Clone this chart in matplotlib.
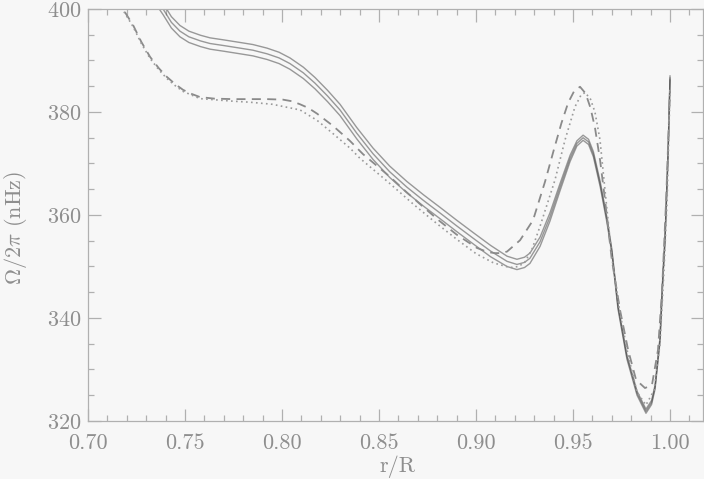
import matplotlib
matplotlib.use("Agg")
import matplotlib.pyplot as plt
from matplotlib.ticker import MultipleLocator, FormatStrFormatter

# ---- data ----
r_solid = [0.730, 0.7387, 0.7430, 0.7474, 0.7520, 0.7580, 0.7629, 0.7700, 0.7784, 0.7850,
           0.7923, 0.7985, 0.8041, 0.8110, 0.8170, 0.8235, 0.8299, 0.8385, 0.8469, 0.8555,
           0.8644, 0.8730, 0.8814, 0.8900, 0.8985, 0.9075, 0.9160, 0.9211, 0.9250, 0.9278,
           0.9330, 0.9381, 0.9433, 0.9485, 0.9520, 0.9552, 0.9580, 0.9605, 0.9640, 0.9675,
           0.9700, 0.9732, 0.9778, 0.9830, 0.9876, 0.9905, 0.9923, 0.9948, 0.9964, 0.9974,
           0.9990, 1.000]
omega_solid = [404.8, 400.0, 397.4, 395.7, 394.6, 393.8, 393.3, 392.9, 392.4, 392.0,
               391.3, 390.5, 389.4, 387.6, 385.6, 383.1, 380.4, 375.9, 371.9, 368.4,
               365.4, 362.8, 360.4, 357.9, 355.5, 353.0, 351.0, 350.4, 350.8, 351.6,
               354.8, 359.6, 365.4, 371.0, 373.9, 375.0, 374.2, 371.8, 366.0, 359.0,
               353.0, 342.1, 332.4, 325.4, 321.9, 323.6, 326.6, 335.7, 348.7, 355.1,
               372.0, 386.6]
err_solid = [1.1, 1.1, 1.1, 1.1, 1.1, 1.1, 1.1, 1.1, 1.1, 1.1,
             1.1, 1.1, 1.1, 1.1, 1.1, 1.1, 1.1, 1.1, 1.1, 1.1,
             1.1, 1.1, 1.1, 1.1, 1.1, 1.1, 1.0, 1.0, 1.0, 1.0,
             0.9, 0.8, 0.7, 0.6, 0.5, 0.5, 0.5, 0.5, 0.5, 0.5,
             0.4, 0.4, 0.4, 0.4, 0.4, 0.4, 0.4, 0.4, 0.4, 0.4,
             0.4, 0.4]

r_dashed = [0.712, 0.718, 0.7232, 0.7275, 0.732, 0.7365, 0.7407, 0.745, 0.749, 0.7535,
            0.7577, 0.765, 0.7747, 0.7923, 0.8005, 0.8050, 0.8093, 0.8135, 0.818, 0.8263,
            0.835, 0.8418, 0.8557, 0.8640, 0.8727, 0.8810, 0.890, 0.9005, 0.9060, 0.9098,
            0.9130, 0.916, 0.9227, 0.9294, 0.9356, 0.9400, 0.9440, 0.9475, 0.9505, 0.9536,
            0.9565, 0.9590, 0.9613, 0.9640, 0.9665, 0.970, 0.9742, 0.9784, 0.9825, 0.9871,
            0.9907, 0.9938, 0.9959, 0.998, 1.000]
omega_dashed = [403.6, 400.0, 396.9, 393.6, 390.7, 388.5, 386.8, 385.4, 384.3, 383.5,
                382.9, 382.6, 382.5, 382.5, 382.4, 382.1, 381.5, 380.8, 379.7, 377.3,
                374.4, 371.8, 367.4, 364.5, 361.6, 358.9, 356.2, 353.6, 352.8, 352.6,
                352.6, 352.9, 355.1, 359.0, 366.5, 372.5, 377.8, 381.8, 384.0, 384.9,
                383.6, 380.8, 377.0, 370.5, 362.9, 351.3, 341.6, 333.8, 328.0, 326.4,
                327.0, 333.8, 345.4, 362.9, 384.3]

r_dotted = [0.712, 0.718, 0.7232, 0.7275, 0.732, 0.7365, 0.7407, 0.745, 0.749, 0.7577,
            0.7747, 0.7835, 0.795, 0.8093, 0.818, 0.8263, 0.835, 0.8402, 0.855, 0.868,
            0.8799, 0.890, 0.900, 0.909, 0.9175, 0.9220, 0.9253, 0.929, 0.933, 0.9407,
            0.9459, 0.951, 0.9540, 0.9562, 0.9590, 0.9613, 0.9639, 0.967, 0.970, 0.9742,
            0.9784, 0.983, 0.9876, 0.9918, 0.9948, 0.9969, 0.9985, 1.000]
omega_dotted = [403.4, 399.8, 396.6, 393.3, 390.4, 388.2, 386.5, 385.1, 384.0, 382.6,
                382.1, 381.9, 381.5, 380.4, 378.4, 375.8, 373.0, 371.0, 366.3, 362.0,
                358.3, 355.3, 352.5, 350.7, 349.8, 350.0, 350.9, 353.5, 357.8, 366.8,
                374.6, 381.0, 383.2, 383.8, 382.5, 380.0, 374.6, 362.9, 351.8, 341.0,
                332.8, 325.6, 323.1, 326.0, 334.8, 349.3, 362.9, 384.3]

x_ticks = [0.70, 0.75, 0.80, 0.85, 0.90, 0.95, 1.00]
y_ticks = [320, 340, 360, 380, 400]

# ---- style ----
plt.rcParams['font.family'] = ['cmr10', 'DejaVu Serif']
plt.rcParams['mathtext.fontset'] = 'cm'
plt.rcParams['axes.formatter.use_mathtext'] = True

text_col = '#8e8e8e'
spine_col = '#b0b0b0'
bg = '#f7f7f7'

fig = plt.figure(figsize=(7.04, 4.79), dpi=100, facecolor=bg)
ax = fig.add_axes([88 / 704, (479 - 421) / 479, 615 / 704, 412 / 479])
ax.set_facecolor(bg)

line_col = '#4a4a4a'
lower = [o - e for o, e in zip(omega_solid, err_solid)]
upper = [o + e for o, e in zip(omega_solid, err_solid)]
for series in (lower, omega_solid, upper):
    ax.plot(r_solid, series, color=line_col, lw=1.0, alpha=0.55,
            solid_joinstyle='round')

ax.plot(r_dashed, omega_dashed, color='#8a8a8a', lw=1.3, dashes=(5, 3.5))
ax.plot(r_dotted, omega_dotted, color='#9a9a9a', lw=1.2, dashes=(1, 2))

ax.set_xlim(0.70, 1.017)
ax.set_ylim(320, 400)
ax.set_xticks(x_ticks)
ax.set_yticks(y_ticks)
ax.xaxis.set_major_formatter(FormatStrFormatter('%.2f'))
ax.xaxis.set_minor_locator(MultipleLocator(0.01))
ax.yaxis.set_minor_locator(MultipleLocator(5))

ax.tick_params(which='both', direction='in', top=True, right=True,
               color=spine_col, labelcolor=text_col, labelsize=16, width=0.9)
ax.tick_params(which='major', length=9)
ax.tick_params(which='minor', length=4.5)
ax.tick_params(axis='x', which='major', pad=9)
ax.tick_params(axis='y', which='major', pad=5)

for s in ax.spines.values():
    s.set_color(spine_col)
    s.set_linewidth(0.9)

ax.set_xlabel('r/R', color=text_col, fontsize=16)
ax.xaxis.set_label_coords(0.504, -0.084)
ax.set_ylabel(r'$\Omega/2\pi$ (nHz)', color=text_col, fontsize=16)
ax.yaxis.set_label_coords(-0.096, 0.468)

fig.savefig('out.png', dpi=100, facecolor=bg)
